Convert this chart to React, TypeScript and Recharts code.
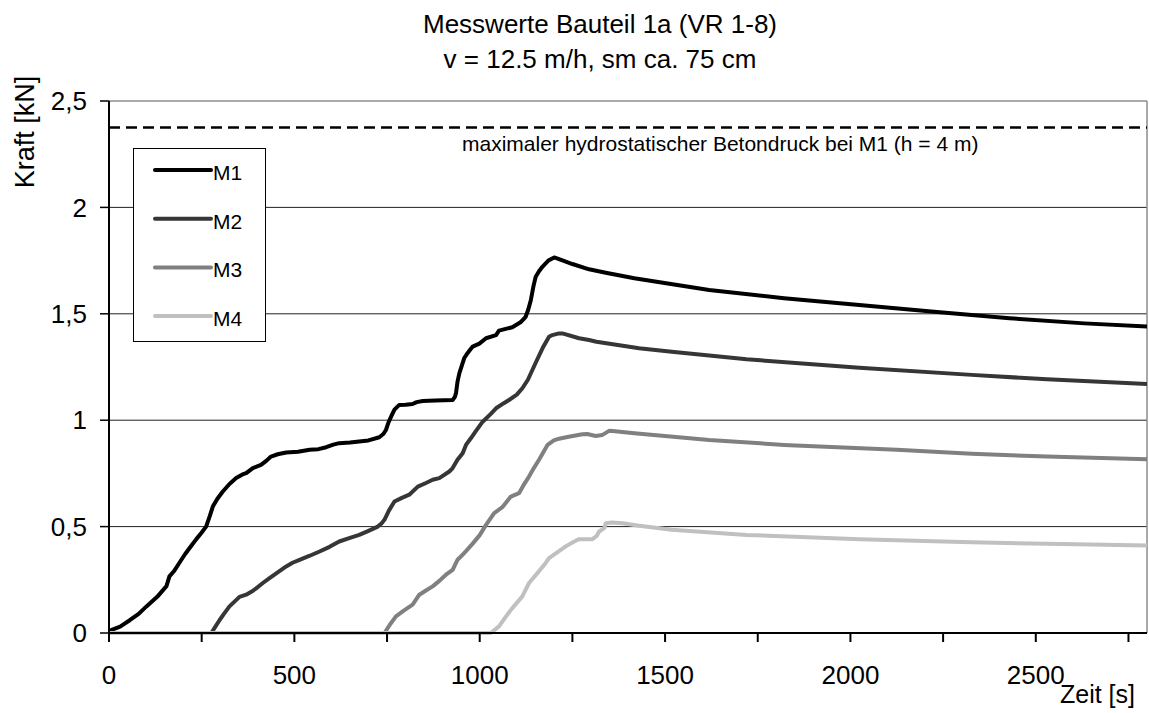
import { CartesianGrid, Label, Legend, Line, LineChart, ReferenceLine, XAxis, YAxis } from "recharts";

// Messwerte M1..M4: Zeit [s] und Kraft [kN]
const m1Time = [0, 30, 56, 80, 101, 130, 155, 163, 175, 190, 205, 222, 235, 249, 262, 272, 280, 292, 307, 325, 343, 360, 370, 388, 410, 425, 437, 455, 478, 510, 541, 565, 586, 605, 621, 650, 675, 700, 729, 740, 747, 754, 761, 770, 783, 800, 819, 830, 846, 880, 927, 933, 936, 940, 945, 958, 967, 981, 999, 1017, 1044, 1052, 1088, 1110, 1124, 1131, 1138, 1145, 1151, 1160, 1169, 1185, 1201, 1225, 1250, 1295, 1340, 1417, 1619, 1821, 2024, 2226, 2429, 2631, 2800];
const m1Force = [0.01, 0.03, 0.06, 0.09, 0.125, 0.17, 0.22, 0.266, 0.29, 0.33, 0.37, 0.41, 0.44, 0.47, 0.5, 0.55, 0.594, 0.63, 0.665, 0.7, 0.728, 0.745, 0.751, 0.775, 0.79, 0.81, 0.829, 0.84, 0.848, 0.852, 0.861, 0.864, 0.873, 0.885, 0.892, 0.895, 0.9, 0.905, 0.92, 0.935, 0.954, 0.99, 1.017, 1.05, 1.072, 1.073, 1.076, 1.085, 1.09, 1.092, 1.095, 1.11, 1.127, 1.18, 1.22, 1.291, 1.315, 1.346, 1.36, 1.385, 1.4, 1.421, 1.437, 1.46, 1.486, 1.52, 1.565, 1.63, 1.674, 1.7, 1.721, 1.75, 1.765, 1.75, 1.734, 1.709, 1.693, 1.667, 1.612, 1.573, 1.541, 1.51, 1.479, 1.455, 1.44];

const m2Time = [0, 276, 287, 298, 310, 325, 340, 352, 370, 385, 397, 415, 433, 455, 478, 495, 514, 540, 568, 595, 621, 650, 675, 700, 725, 735, 743, 755, 770, 790, 810, 833, 855, 873, 891, 918, 927, 940, 954, 963, 976, 990, 1008, 1030, 1044, 1065, 1079, 1100, 1115, 1130, 1151, 1170, 1187, 1196, 1214, 1223, 1268, 1295, 1315, 1430, 1518, 1720, 2024, 2327, 2530, 2800];
const m2Force = [0, 0, 0.03, 0.06, 0.09, 0.125, 0.15, 0.17, 0.18, 0.195, 0.21, 0.235, 0.258, 0.285, 0.313, 0.33, 0.344, 0.362, 0.383, 0.405, 0.43, 0.447, 0.461, 0.48, 0.5, 0.515, 0.532, 0.575, 0.618, 0.635, 0.65, 0.688, 0.705, 0.72, 0.728, 0.759, 0.775, 0.814, 0.845, 0.884, 0.915, 0.95, 0.993, 1.03, 1.056, 1.08, 1.095, 1.12, 1.15, 1.19, 1.27, 1.34, 1.392, 1.4, 1.408, 1.408, 1.385, 1.377, 1.369, 1.338, 1.322, 1.286, 1.247, 1.213, 1.192, 1.17];

const m3Time = [0, 743, 758, 774, 795, 819, 837, 855, 873, 891, 909, 927, 940, 945, 963, 981, 1000, 1017, 1039, 1061, 1084, 1106, 1120, 1133, 1146, 1160, 1172, 1183, 1200, 1214, 1240, 1277, 1290, 1313, 1330, 1349, 1365, 1417, 1619, 1821, 2125, 2327, 2530, 2800];
const m3Force = [0, 0, 0.04, 0.078, 0.105, 0.133, 0.18, 0.2, 0.219, 0.245, 0.274, 0.297, 0.344, 0.352, 0.385, 0.42, 0.46, 0.508, 0.563, 0.591, 0.641, 0.657, 0.7, 0.735, 0.775, 0.814, 0.85, 0.884, 0.905, 0.913, 0.922, 0.934, 0.935, 0.926, 0.93, 0.95, 0.948, 0.939, 0.907, 0.884, 0.861, 0.842, 0.829, 0.817];

const m4Time = [0, 1030, 1052, 1071, 1088, 1115, 1133, 1155, 1178, 1187, 1210, 1232, 1255, 1268, 1304, 1315, 1322, 1336, 1340, 1357, 1386, 1430, 1518, 1720, 2024, 2327, 2530, 2800];
const m4Force = [0, 0, 0.031, 0.078, 0.117, 0.172, 0.235, 0.28, 0.329, 0.352, 0.38, 0.407, 0.43, 0.441, 0.441, 0.455, 0.477, 0.493, 0.516, 0.519, 0.516, 0.504, 0.485, 0.461, 0.441, 0.427, 0.419, 0.411];

const xTicks = [0, 250, 500, 750, 1000, 1250, 1500, 1750, 2000, 2250, 2500, 2750];
const yTicks = [0, 0.5, 1, 1.5, 2, 2.5];
const gridValues = [0.5, 1, 1.5, 2];
const hydrostaticMax = 2.375;
const tMax = 2800;

const toPoints = (time: number[], force: number[]) => time.map((t, i) => ({ t, v: force[i] }));

const series = [
  { name: "M1", color: "#000000", data: toPoints(m1Time, m1Force) },
  { name: "M2", color: "#363636", data: toPoints(m2Time, m2Force) },
  { name: "M3", color: "#808080", data: toPoints(m3Time, m3Force) },
  { name: "M4", color: "#c0c0c0", data: toPoints(m4Time, m4Force) },
];

const FONT = "'Liberation Sans', Arial, sans-serif";

function LegendBox({ payload }: any) {
  return (
    <div style={{ width: 133, height: 194, border: "1px solid #000", background: "#fff", boxSizing: "border-box" }}>
      <svg width={131} height={192} style={{ display: "block" }}>
        {(payload || []).map((entry: any, i: number) => {
          const y = 21 + i * 48.7;
          return (
            <g key={entry.value}>
              <line x1={21} x2={77} y1={y} y2={y} stroke={entry.color} strokeWidth={4} strokeLinecap="round" />
              <text x={79} y={y + 10} fontSize={21} fill="#000">
                {entry.value}
              </text>
            </g>
          );
        })}
      </svg>
    </div>
  );
}

export default function App() {
  return (
    <div style={{ position: "absolute", left: 0, top: 0, width: 1149, height: 713, background: "#fff", fontFamily: FONT }}>
      <div
        style={{
          position: "absolute",
          left: 350,
          top: 6.5,
          width: 500,
          textAlign: "center",
          fontSize: 26,
          lineHeight: "35px",
          color: "#000",
          zIndex: 2,
        }}
      >
        Messwerte Bauteil 1a (VR 1-8)
        <br />v = 12.5 m/h, sm ca. 75 cm
      </div>
      <LineChart width={1149} height={713} margin={{ top: 101, right: 2, bottom: 0, left: 9 }}>
        <CartesianGrid vertical={false} horizontalValues={gridValues} stroke="#222" strokeWidth={1} />
        <ReferenceLine y={2.5} stroke="#8c8c8c" strokeWidth={1.5} />
        <ReferenceLine x={tMax} stroke="#8c8c8c" strokeWidth={1.5} />
        <ReferenceLine
          y={hydrostaticMax}
          stroke="#000"
          strokeWidth={2.5}
          strokeDasharray="11 6"
          label={(props: any) => (
            <text x={props.viewBox.x + 353} y={props.viewBox.y + 23} fontSize={21} fill="#000">
              maximaler hydrostatischer Betondruck bei M1 (h = 4 m)
            </text>
          )}
        />
        <XAxis
          dataKey="t"
          type="number"
          domain={[0, tMax]}
          ticks={xTicks}
          interval={0}
          allowDataOverflow
          height={80}
          tickSize={9}
          tickMargin={24}
          tickFormatter={(v: number) => (v % 500 === 0 ? String(v) : "")}
          tick={{ fill: "#000", fontSize: 26 }}
          tickLine={{ stroke: "#000", strokeWidth: 2 }}
          axisLine={{ stroke: "#000", strokeWidth: 2 }}
        >
          <Label
            content={(props: any) => (
              <text
                x={props.viewBox.x + props.viewBox.width - 12}
                y={props.viewBox.y + 70}
                textAnchor="end"
                fontSize={25}
                fill="#000"
              >
                Zeit [s]
              </text>
            )}
          />
        </XAxis>
        <YAxis
          type="number"
          domain={[0, 2.5]}
          ticks={yTicks}
          interval={0}
          width={100}
          tickSize={9}
          tickMargin={13}
          tickFormatter={(v: number) => String(v).replace(".", ",")}
          tick={{ fill: "#000", fontSize: 26 }}
          tickLine={{ stroke: "#000", strokeWidth: 1.5 }}
          axisLine={{ stroke: "#000", strokeWidth: 2 }}
        >
          <Label
            content={(props: any) => {
              const x = props.viewBox.x + 25;
              const y = props.viewBox.y + 31;
              return (
                <text x={x} y={y} textAnchor="middle" fontSize={27} fill="#000" transform={`rotate(-90, ${x}, ${y})`}>
                  Kraft [kN]
                </text>
              );
            }}
          />
        </YAxis>
        <Legend
          verticalAlign="middle"
          align="center"
          content={<LegendBox />}
          wrapperStyle={{ left: 133, top: 148, width: 133, height: 194 }}
        />
        {series.map((s) => (
          <Line
            key={s.name}
            data={s.data}
            dataKey="v"
            name={s.name}
            type="linear"
            stroke={s.color}
            strokeWidth={4}
            strokeLinejoin="round"
            dot={false}
            activeDot={false}
            isAnimationActive={false}
          />
        ))}
      </LineChart>
    </div>
  );
}
